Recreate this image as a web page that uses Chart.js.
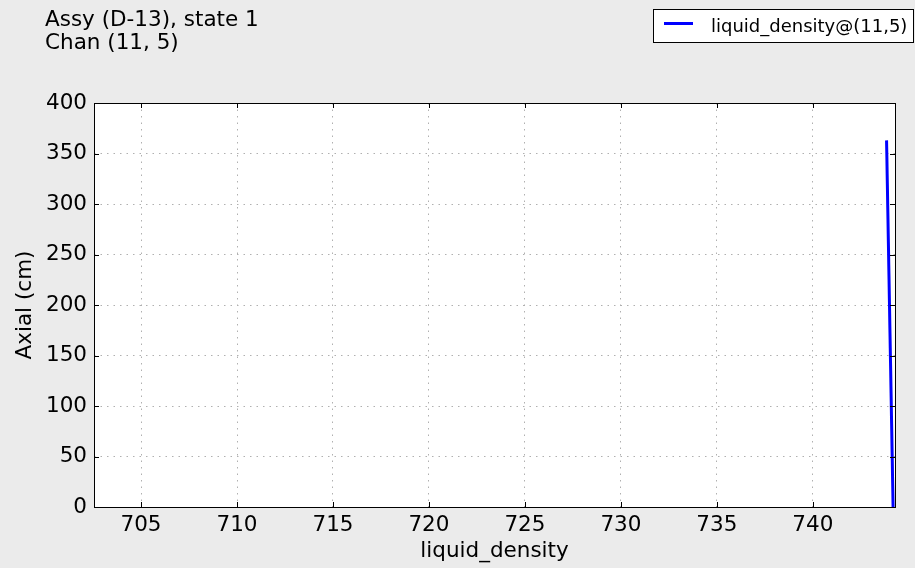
<!DOCTYPE html>
<html>
<head>
<meta charset="utf-8">
<script src="https://cdn.jsdelivr.net/npm/chart.js@4.4.1/dist/chart.umd.min.js"></script>
<style>
  html, body { margin: 0; padding: 0; background: #ebebeb; }
  #wrap { width: 915px; height: 568px; }
</style>
</head>
<body>
<div id="wrap"><canvas id="chart" width="915" height="568"></canvas></div>
<script>
// axial levels (cm) and liquid density
const axial = [0, 15, 30, 45, 60, 75, 90, 105, 120, 135, 150, 165, 180, 195, 210, 225, 240, 255, 270, 285, 300, 315, 330, 345, 363];
const liquidDensity = [744.180, 744.167, 744.152, 744.139, 744.124, 744.111, 744.096, 744.083, 744.068, 744.055, 744.040, 744.026, 744.011, 743.998, 743.983, 743.970, 743.955, 743.942, 743.927, 743.914, 743.899, 743.886, 743.871, 743.858, 743.840];
const xTicks = [705, 710, 715, 720, 725, 730, 735, 740];
const yTicks = [0, 50, 100, 150, 200, 250, 300, 350, 400];
const titleLines = ['Assy (D-13), state 1', 'Chan (11, 5)'];
const seriesLabel = 'liquid_density@(11,5)';

const FONT = 'DejaVu Sans';
const FS = 21.5;

// fond blanc de la zone de tracé, cadre, petits traits de graduation
const framePlugin = {
    id: 'frame',
    beforeDraw(chart) {
        const { ctx, chartArea: a } = chart;
        ctx.save();
        ctx.fillStyle = '#ffffff';
        ctx.fillRect(a.left, a.top, a.right - a.left, a.bottom - a.top);
        ctx.restore();
    },
    afterDatasetsDraw(chart) {
        const { ctx, chartArea: a, scales } = chart;
        ctx.save();
        ctx.strokeStyle = '#000000';
        ctx.lineWidth = 1;
        ctx.beginPath();
        scales.y.ticks.forEach(t => {
            const y = Math.round(scales.y.getPixelForValue(t.value)) + 0.5;
            ctx.moveTo(a.left, y); ctx.lineTo(a.left + 5, y);
            ctx.moveTo(a.right, y); ctx.lineTo(a.right - 5, y);
        });
        scales.x.ticks.forEach(t => {
            const x = Math.round(scales.x.getPixelForValue(t.value)) + 0.5;
            ctx.moveTo(x, a.bottom); ctx.lineTo(x, a.bottom - 5);
            ctx.moveTo(x, a.top); ctx.lineTo(x, a.top + 5);
        });
        ctx.stroke();
        ctx.strokeRect(Math.round(a.left) + 0.5, Math.round(a.top) + 0.5,
            Math.round(a.right - a.left), Math.round(a.bottom - a.top));
        ctx.restore();
    },
    afterDraw(chart) {
        const { ctx } = chart;
        ctx.save();
        // titre à gauche
        ctx.fillStyle = '#000000';
        ctx.font = FS + 'px "' + FONT + '"';
        ctx.textBaseline = 'alphabetic';
        ctx.textAlign = 'left';
        titleLines.forEach((line, i) => ctx.fillText(line, 45, 26 + i * 23));
        // légende en haut à droite
        ctx.fillStyle = '#ffffff';
        ctx.fillRect(653.5, 9.5, 260, 33);
        ctx.strokeStyle = '#000000';
        ctx.lineWidth = 1;
        ctx.strokeRect(653.5, 9.5, 260, 33);
        ctx.strokeStyle = '#0000ff';
        ctx.lineWidth = 3;
        ctx.beginPath();
        ctx.moveTo(664, 23.5); ctx.lineTo(693, 23.5);
        ctx.stroke();
        ctx.fillStyle = '#000000';
        ctx.font = '18px "' + FONT + '"';
        ctx.textBaseline = 'alphabetic';
        ctx.fillText(seriesLabel, 711, 31.5);
        ctx.restore();
    }
};

const ctx = document.getElementById('chart').getContext('2d');

new Chart(ctx, {
    type: 'line',
    data: {
        datasets: [{
            label: seriesLabel,
            data: liquidDensity.map((d, i) => ({ x: d, y: axial[i] })),
            borderColor: '#0000ff',
            backgroundColor: '#0000ff',
            borderWidth: 3,
            pointRadius: 0,
            fill: false,
            tension: 0.01  // évite le "fast path" qui crée des marches
        }]
    },
    options: {
        responsive: false,
        animation: false,
        layout: { padding: { left: 0, right: 20, top: 103, bottom: 0 } },
        plugins: {
            legend: { display: false },
            tooltip: { enabled: false }
        },
        scales: {
            x: {
                type: 'linear',
                min: 702.55,
                max: 744.28,
                afterFit: s => { s.height = 61; },
                afterBuildTicks: s => { s.ticks = xTicks.map(v => ({ value: v })); },
                grid: { color: '#b0b0b0', drawTicks: false, lineWidth: 1 },
                border: { display: false, dash: [1.5, 5] },
                ticks: { color: '#000', font: { family: FONT, size: FS }, padding: 6, maxRotation: 0 },
                title: { display: true, text: 'liquid_density', color: '#000', font: { family: FONT, size: FS }, padding: { top: 0, bottom: 4 } }
            },
            y: {
                min: 0,
                max: 400,
                afterFit: s => { s.width = 94; },
                afterBuildTicks: s => { s.ticks = yTicks.map(v => ({ value: v })); },
                grid: { color: '#b0b0b0', drawTicks: false, lineWidth: 1 },
                border: { display: false, dash: [1.5, 5] },
                ticks: { color: '#000', font: { family: FONT, size: FS }, padding: 7 },
                title: { display: true, text: 'Axial (cm)', color: '#000', font: { family: FONT, size: FS }, padding: { top: 13, bottom: 0 } }
            }
        }
    },
    plugins: [framePlugin]
});
</script>
</body>
</html>
